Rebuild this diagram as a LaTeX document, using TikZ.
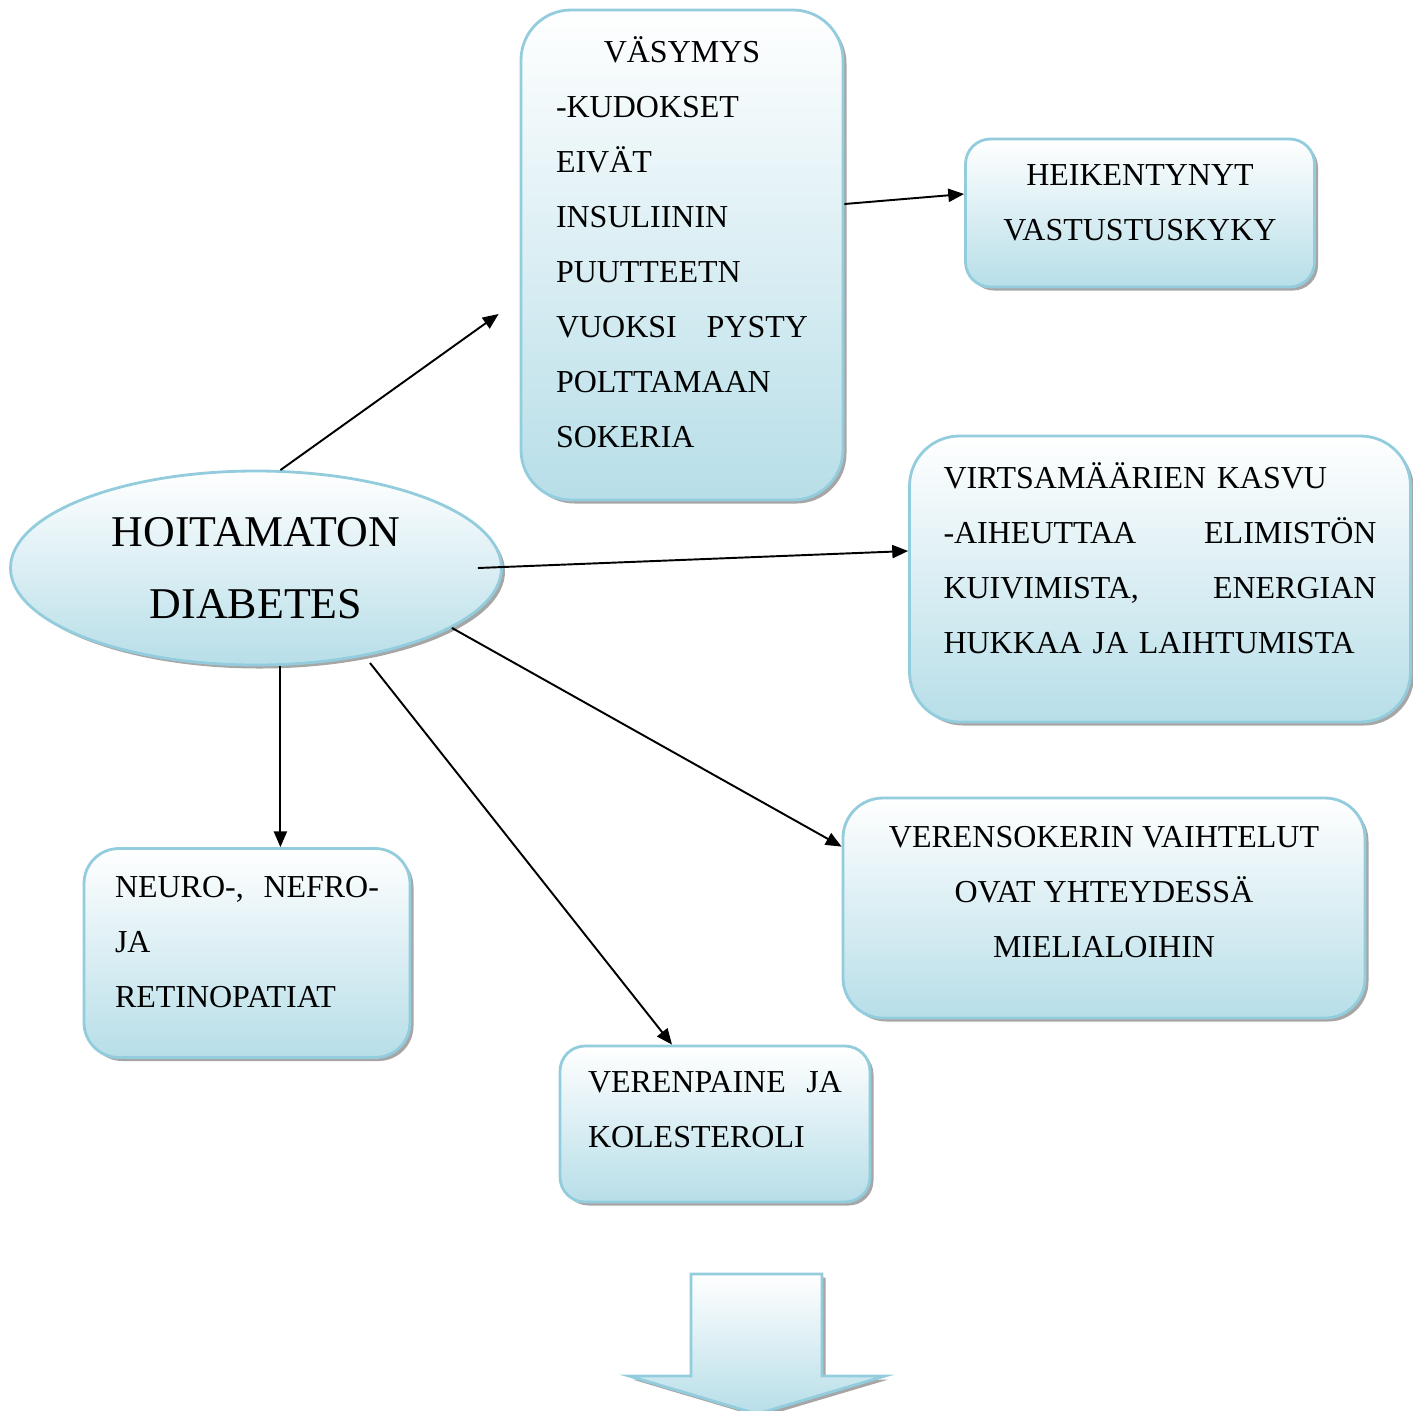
\documentclass[tikz,border=0pt]{standalone}
\usepackage{fontspec}
\setmainfont{Liberation Serif}
\usepackage{tikz}
\usetikzlibrary{calc,positioning,arrows.meta,shapes.geometric,shadows}

\definecolor{boxBorder}{HTML}{93CDDD}
\definecolor{boxBottom}{HTML}{B7DEE8}

% pushes the text of a box a little upwards
\newcommand{\lift}[1]{\rule[-#1]{0pt}{#1}}

\begin{document}
\begin{tikzpicture}
      [x=0.02cm, y=-0.02cm, >={Triangle[length=9pt,width=7.5pt]},
      % STYLES
      % The box style is used for the shaded rounded boxes
      box/.style={rectangle, draw=boxBorder, line width=1.6pt, top color=white, bottom color=boxBottom,
        drop shadow={shadow xshift=0.07cm, shadow yshift=-0.07cm, fill=gray!70, opacity=1},
        font=\fontsize{18.2}{31.3}\selectfont, inner sep=0pt},
      % The cause style is used for the ellipse in the middle
      cause/.style={ellipse, draw=boxBorder, line width=1.6pt, top color=white, bottom color=boxBottom,
        drop shadow={shadow xshift=0.07cm, shadow yshift=-0.07cm, fill=gray!70, opacity=1},
        inner sep=0pt, align=center, font=\fontsize{25}{41}\selectfont},
      % The link style is used for the thin arrows
      link/.style={->, line width=1.1pt}]

      \useasboundingbox (0,0) rectangle (1413,1410);

      % Draw the cause
      \node [cause, minimum width=491*0.02cm, minimum height=194*0.02cm] (hoitamatonDiabetes) at (256,568)
        {HOITAMATON\\DIABETES};

      %%%%%%%%%%%%%%%
      % Consequences
      \node [box, rounded corners=1cm, minimum width=322*0.02cm, minimum height=490*0.02cm,
        text width=252*0.02cm, align=left] (vasymys) at (682,255) {
        \hfill VÄSYMYS\hfill\null\\
        -KUDOKSET\\
        EIVÄT\\
        INSULIININ\\
        PUUTTEETN\\
        VUOKSI\hfill PYSTY\\
        POLTTAMAAN\\
        SOKERIA\lift{0.53cm}
      };
      \node [box, rounded corners=0.5cm, minimum width=349*0.02cm, minimum height=148*0.02cm,
        align=center] (vastustuskyky) at (1140,213) {
        HEIKENTYNYT\\
        VASTUSTUSKYKY\lift{0.4cm}
      };
      \node [box, rounded corners=1cm, minimum width=501*0.02cm, minimum height=286*0.02cm,
        text width=433*0.02cm, align=left] (virtsamaarat) at (1160,579) {
        VIRTSAMÄÄRIEN KASVU\\
        -AIHEUTTAA\hfill ELIMISTÖN\\
        KUIVIMISTA,\hfill ENERGIAN\\
        HUKKAA JA LAIHTUMISTA\lift{0.84cm}
      };
      \node [box, rounded corners=0.8cm, minimum width=522*0.02cm, minimum height=220*0.02cm,
        align=center] (verensokeri) at (1104,908) {
        VERENSOKERIN VAIHTELUT\\
        OVAT YHTEYDESSÄ\\
        MIELIALOIHIN\lift{0.64cm}
      };
      \node [box, rounded corners=0.7cm, minimum width=326*0.02cm, minimum height=209*0.02cm,
        text width=264*0.02cm, align=left] (neuropatiat) at (247,953) {
        NEURO-,\hfill NEFRO-\\
        JA\\
        RETINOPATIAT\lift{0.44cm}
      };
      \node [box, rounded corners=0.5cm, minimum width=310*0.02cm, minimum height=156*0.02cm,
        text width=254*0.02cm, align=left] (verenpaine) at (715,1124) {
        VERENPAINE\hfill JA\\
        KOLESTEROLI\lift{0.6cm}
      };

      %%%%%%%%%%%%%%%%
      % Big arrow at the bottom
      \draw [draw=boxBorder, line width=1.6pt, top color=white, bottom color=boxBottom,
        drop shadow={shadow xshift=0.07cm, shadow yshift=-0.07cm, fill=gray!70, opacity=1}]
        (691,1274) -- (822,1274) -- (822,1376) -- (885,1376) -- (757,1414)
        -- (629,1376) -- (691,1376) -- cycle;

      % Draw the links from the cause
      \coordinate (vasymysIn) at ($(vasymys.west)+(-21,59)$);
      \path[link]
        (hoitamatonDiabetes.76) edge (vasymysIn)
        ($(vasymys.east)+(0,-51)$) edge ($(vastustuskyky.west)+(0,-19)$)
        ($(hoitamatonDiabetes.east)+(-25,0)$) edge ($(virtsamaarat.west)+(0,-28)$)
        (hoitamatonDiabetes.-17) edge ($(verensokeri.north west)+(0,50)$)
        ($(hoitamatonDiabetes.center)+(114,95)$) edge ($(verenpaine.north)+(-43,0)$)
        (hoitamatonDiabetes.-76) edge (hoitamatonDiabetes.-76 |- neuropatiat.north);

    \end{tikzpicture}
\end{document}
